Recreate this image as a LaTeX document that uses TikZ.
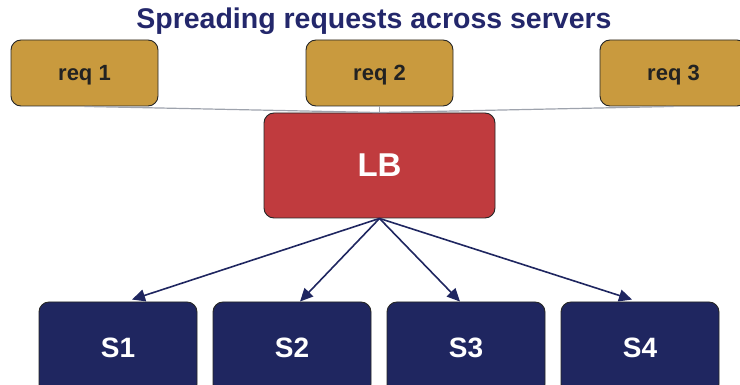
\documentclass[tikz,border=0pt]{standalone}
\usepackage{fontspec}
\setmainfont{Liberation Sans}
\usetikzlibrary{arrows.meta}
\definecolor{reqgold}{HTML}{C99A3E}
\definecolor{lbred}{HTML}{C03B3E}
\definecolor{srvnavy}{HTML}{1F2660}
\definecolor{titlenavy}{HTML}{23276B}
\definecolor{linkgray}{HTML}{9EA3AD}
\definecolor{reqtext}{HTML}{222222}
\tikzset{
  box/.style={draw=black!85, line width=0.9pt, rounded corners=10pt, font=\bfseries},
  reqbox/.style={box, fill=reqgold, text=reqtext, minimum width=147pt, minimum height=66pt, text depth=0pt, font=\fontsize{22}{26}\selectfont\bfseries},
  lbbox/.style={box, fill=lbred, text=white, minimum width=231pt, minimum height=105pt, font=\fontsize{33}{38}\selectfont\bfseries},
  srvbox/.style={box, fill=srvnavy, text=white, minimum width=158pt, minimum height=92pt, font=\fontsize{28}{32}\selectfont\bfseries},
  link/.style={draw=linkgray, line width=1.2pt},
  fan/.style={draw=srvnavy, line width=1.6pt, -{Triangle[length=13pt,width=12pt]}}
}
\begin{document}
\begin{tikzpicture}[x=1pt,y=-1pt]
\useasboundingbox (0,0) rectangle (740,385);
\clip (0,0) rectangle (740,385);

\node[font=\fontsize{28.5}{32}\selectfont\bfseries, text=titlenavy] (title) at (374,21) {Spreading requests across servers};

\node[reqbox] (r1) at (84.5,73) {req 1};
\node[reqbox] (r2) at (379.5,73) {req 2};
\node[reqbox] (r3) at (673.5,73) {req 3};

\node[lbbox] (lb) at (379.5,165.5) {LB};

\draw[link] (r1.south) -- (lb.north);
\draw[link] (r2.south) -- (lb.north);
\draw[link] (r3.south) -- (lb.north);

\node[srvbox] (s1) at (118,348) {S1};
\node[srvbox] (s2) at (292,348) {S2};
\node[srvbox] (s3) at (466,348) {S3};
\node[srvbox] (s4) at (640,348) {S4};

\path (s1.north) ++(14,-2) coordinate (t1);
\path (s2.north) ++(8,0) coordinate (t2);
\path (s3.north) ++(-6,0) coordinate (t3);
\path (s4.north) ++(-8,-2) coordinate (t4);

\draw[fan] (lb.south) -- (t1);
\draw[fan] (lb.south) -- (t2);
\draw[fan] (lb.south) -- (t3);
\draw[fan] (lb.south) -- (t4);
\end{tikzpicture}
\end{document}
